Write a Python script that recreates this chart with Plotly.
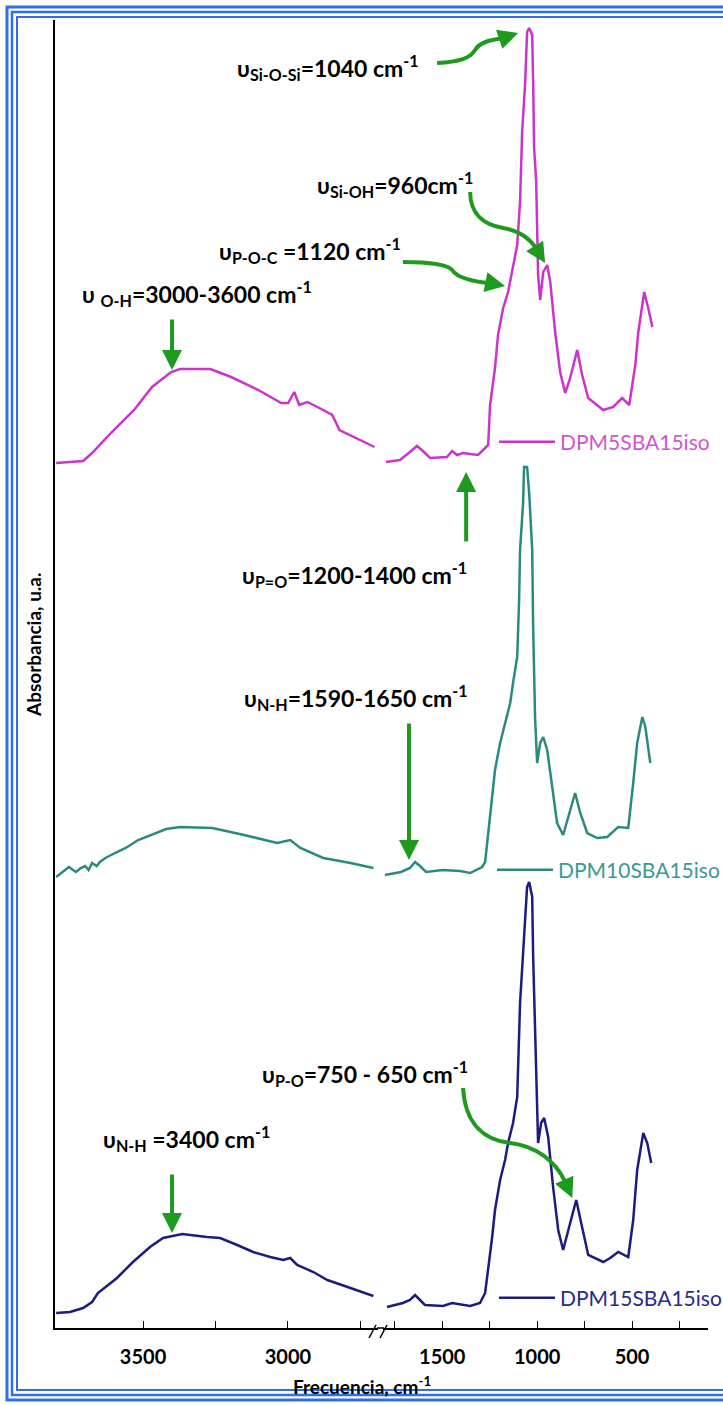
import plotly.graph_objects as go

# ---------------- data (wavenumber cm-1, absorbance a.u. incl. stacking offset) -------------
# DPM5SBA15iso (magenta)
m5_left_wn = [3800, 3707, 3676, 3611, 3531, 3469, 3403, 3372, 3268, 3196, 3102, 3023, 2999, 2978, 2961, 2933, 2878, 2847, 2822, 2767, 2701]
m5_left_ab = [8.65, 8.67, 8.75, 8.95, 9.18, 9.41, 9.56, 9.59, 9.59, 9.51, 9.38, 9.25, 9.25, 9.36, 9.23, 9.26, 9.18, 9.13, 8.98, 8.90, 8.81]
m5_right_wn = [1796, 1723, 1670, 1633, 1596, 1564, 1475, 1448, 1422, 1390, 1353, 1311, 1274, 1258, 1248, 1222, 1206, 1179, 1153,
               1127, 1105, 1090, 1079, 1063, 1053, 1042, 1026, 1021, 1016, 1005, 1000, 995, 984, 968, 947, 931, 905, 879, 852,
               826, 789, 763, 731, 652, 599, 552, 515, 483, 467, 436, 415, 393]
m5_right_ab = [8.66, 8.68, 8.76, 8.82, 8.76, 8.70, 8.71, 8.77, 8.73, 8.75, 8.74, 8.73, 8.80, 8.83, 9.23, 9.60, 9.93, 10.20, 10.36,
               10.60, 10.83, 11.26, 11.96, 12.46, 12.96, 13.00, 12.93, 12.46, 11.80, 11.46, 10.80, 10.53, 10.28, 10.56, 10.63, 10.46, 9.96, 9.56, 9.35,
               9.50, 9.78, 9.53, 9.30, 9.18, 9.21, 9.30, 9.23, 9.63, 9.96, 10.36, 10.20, 10.01]

# DPM10SBA15iso (teal)
m10_left_wn = [3800, 3756, 3732, 3715, 3700, 3688, 3676, 3660, 3649, 3630, 3597, 3560, 3517, 3470, 3420, 3372, 3261, 3151, 3037, 2992, 2957, 2878, 2784, 2705]
m10_left_ab = [4.51, 4.61, 4.56, 4.60, 4.62, 4.58, 4.65, 4.62, 4.66, 4.70, 4.75, 4.80, 4.88, 4.93, 4.99, 5.01, 5.00, 4.93, 4.85, 4.88, 4.80, 4.70, 4.65, 4.60]
m10_right_wn = [1802, 1717, 1670, 1643, 1617, 1585, 1496, 1406, 1353, 1290, 1274, 1258, 1237, 1222, 1195, 1169, 1142, 1127, 1105,
                1095, 1090, 1074, 1069, 1053, 1042, 1026, 1021, 1011, 1000, 984, 968, 947, 921, 895, 863, 826, 800, 773, 736,
                684, 631, 573, 520, 494, 473, 446, 430, 404]
m10_right_ab = [4.53, 4.56, 4.60, 4.66, 4.62, 4.56, 4.58, 4.57, 4.55, 4.61, 4.66, 4.95, 5.28, 5.58, 5.85, 6.05, 6.25, 6.45, 6.71,
                7.28, 7.78, 8.25, 8.61, 8.61, 8.35, 7.78, 7.01, 6.11, 5.65, 5.85, 5.91, 5.78, 5.41, 5.05, 4.93, 5.18, 5.35, 5.15, 4.95,
                4.90, 4.91, 5.01, 5.00, 5.45, 5.85, 6.11, 6.01, 5.65]

# DPM15SBA15iso (navy)
m15_left_wn = [3800, 3752, 3707, 3676, 3656, 3590, 3535, 3476, 3431, 3400, 3365, 3279, 3234, 3175, 3120, 3061, 3016, 2992, 2968, 2912, 2864, 2784, 2705]
m15_left_ab = [0.15, 0.16, 0.20, 0.26, 0.35, 0.50, 0.66, 0.81, 0.90, 0.92, 0.94, 0.91, 0.90, 0.83, 0.76, 0.71, 0.68, 0.70, 0.63, 0.56, 0.48, 0.40, 0.32]
m15_right_wn = [1791, 1707, 1670, 1643, 1617, 1591, 1496, 1448, 1353, 1301, 1274, 1258, 1237, 1222, 1195, 1169, 1153, 1127, 1105,
                1090, 1069, 1053, 1042, 1026, 1021, 1011, 1000, 995, 979, 963, 942, 916, 889, 863, 826, 794, 768, 731,
                652, 615, 573, 520, 494, 473, 441, 420, 399]
m15_right_ab = [0.21, 0.25, 0.28, 0.33, 0.28, 0.23, 0.22, 0.25, 0.22, 0.25, 0.35, 0.58, 0.91, 1.18, 1.48, 1.68, 1.85, 2.05, 2.31,
                3.25, 3.98, 4.41, 4.46, 4.31, 3.71, 2.91, 2.25, 1.85, 2.05, 2.10, 1.91, 1.41, 0.98, 0.78, 1.05, 1.28, 1.05, 0.73,
                0.66, 0.70, 0.76, 0.71, 1.08, 1.58, 1.95, 1.85, 1.65]

series_names = ["DPM5SBA15iso", "DPM10SBA15iso", "DPM15SBA15iso"]
series_colors = ["#CC33CC", "#2A8A80", "#1C1C80"]
legend_text_colors = ["#D055D0", "#3A9A90", "#2A2A8C"]

left_ticks = [3500, 3000]
left_minor_ticks = [3250, 2750]
right_ticks = [1500, 1000, 500]
right_minor_ticks = [1750, 1250, 750, 250, 100]

# ---------------- layout geometry ----------------
W, H = 723, 1405
L, R, T, B = 55, 708, 20, 1328


def pxx(x):
    return (x - L) / (R - L)


def pxy(y):
    return (B - y) / (B - T)


FONT = "Lato"
GREEN = "#1E9B1E"

fig = go.Figure()
spectra = [
    (m5_left_wn, m5_left_ab, m5_right_wn, m5_right_ab),
    (m10_left_wn, m10_left_ab, m10_right_wn, m10_right_ab),
    (m15_left_wn, m15_left_ab, m15_right_wn, m15_right_ab),
]
legend_ids = ["legend", "legend2", "legend3"]
for i, (lw, la, rw, ra) in enumerate(spectra):
    fig.add_trace(go.Scatter(x=lw, y=la, mode="lines", xaxis="x", yaxis="y",
                             line=dict(color=series_colors[i], width=2.5),
                             showlegend=False, name=series_names[i]))
    fig.add_trace(go.Scatter(x=rw, y=ra, mode="lines", xaxis="x2", yaxis="y",
                             line=dict(color=series_colors[i], width=2.5),
                             showlegend=True, legend=legend_ids[i], name=series_names[i]))

legend_y = [442, 870, 1298]
legend_x = [494, 492, 494]
leg_common = dict(xref="container", yref="container", xanchor="left", yanchor="middle",
                  bgcolor="rgba(0,0,0,0)", itemwidth=56, borderwidth=0, tracegroupgap=0)
fig.update_layout(**{
    lid: dict(x=legend_x[i] / W, y=1 - legend_y[i] / H,
              font=dict(family=FONT, size=21, color=legend_text_colors[i]), **leg_common)
    for i, lid in enumerate(legend_ids)
})

axis_common = dict(showline=True, linecolor="black", linewidth=1.5, showgrid=False, zeroline=False,
                   ticks="inside", ticklen=7, tickcolor="black", tickwidth=1.2, ticklabelstandoff=10,
                   tickfont=dict(family=FONT, size=20, color="black", weight="bold"))
minor_common = dict(ticks="inside", ticklen=7, tickcolor="black", tickwidth=1.2, showgrid=False)
fig.update_layout(
    width=W, height=H,
    margin=dict(l=L, r=W - R, t=T, b=H - B, pad=0, autoexpand=False),
    paper_bgcolor="white", plot_bgcolor="white",
    xaxis=dict(domain=[0, pxx(378)], range=[3804, 2689], tickmode="array", tickvals=left_ticks,
               minor=dict(tickmode="array", tickvals=left_minor_ticks, **minor_common),
               anchor="y", **axis_common),
    xaxis2=dict(domain=[pxx(383), 1], range=[1812, 100], tickmode="array", tickvals=right_ticks,
                minor=dict(tickmode="array", tickvals=right_minor_ticks, **minor_common),
                anchor="y", **axis_common),
    yaxis=dict(range=[0, 13.08], showline=True, linecolor="black", linewidth=1.5, showgrid=False,
               zeroline=False, showticklabels=False, ticks=""),
    showlegend=True,
)

annotations = []
shapes = []

# axis titles
annotations.append(dict(xref="paper", yref="paper", x=pxx(362), y=pxy(1385), xanchor="center", yanchor="middle",
                        text="Frecuencia, cm<sup>-1</sup>", showarrow=False,
                        font=dict(family=FONT, size=19, color="black", weight="bold")))
annotations.append(dict(xref="paper", yref="paper", x=pxx(33), y=pxy(645), xanchor="center", yanchor="middle",
                        text="Absorbancia, u.a.", textangle=-90, showarrow=False,
                        font=dict(family=FONT, size=19, color="black", weight="bold")))

# band labels (left x px, center y px)
labels = [
    ("υ<sub>Si-O-Si</sub>=1040 cm<sup>-1</sup>", 235, 67),
    ("υ<sub>Si-OH</sub>=960cm<sup>-1</sup>", 315, 185),
    ("υ<sub>P-O-C</sub> =1120 cm<sup>-1</sup>", 217, 250),
    ("υ <sub>O-H</sub>=3000-3600 cm<sup>-1</sup>", 80, 293),
    ("υ<sub>P=O</sub>=1200-1400 cm<sup>-1</sup>", 240, 575),
    ("υ<sub>N-H</sub>=1590-1650 cm<sup>-1</sup>", 242, 697),
    ("υ<sub>P-O</sub>=750 - 650 cm<sup>-1</sup>", 260, 1073),
    ("υ<sub>N-H</sub> =3400 cm<sup>-1</sup>", 101, 1138),
]
for txt, lx, cy in labels:
    annotations.append(dict(xref="paper", yref="paper", x=pxx(lx), y=pxy(cy), xanchor="left", yanchor="middle",
                            text=txt, showarrow=False,
                            font=dict(family=FONT, size=23, color="black", weight="bold")))

# straight arrows: (xref, x tip, y tip, ay offset px)
straight = [("x", 3400, 9.58, -52), ("x", 3400, 0.95, -60), ("x2", 1675, 4.68, -138), ("x2", 1374, 8.56, 71)]
for xr, xt, yt, ay in straight:
    annotations.append(dict(xref=xr, yref="y", x=xt, y=yt, ax=0, ay=ay, axref="pixel", ayref="pixel",
                            text="", showarrow=True, arrowhead=2, arrowsize=1, arrowwidth=4,
                            arrowcolor=GREEN, standoff=0))

# curved arrows (data coords on x2/y): path, tip and head tail offset
curves = [
    ("M 1527,12.65 C 1406,12.66 1353,12.70 1327,12.78 C 1301,12.86 1248,12.88 1179,12.90", 1100, 12.95, -15, 5),
    ("M 1353,11.36 C 1353,11.13 1274,11.03 1179,11.00 C 1090,10.97 1037,10.90 1000,10.78", 958, 10.65, -8, -13),
    ("M 1707,10.66 C 1564,10.66 1469,10.63 1448,10.58 C 1422,10.50 1327,10.46 1248,10.45", 1169, 10.42, -15, -3),
    ("M 1390,2.40 C 1380,2.03 1274,1.88 1142,1.85 C 1011,1.82 905,1.68 852,1.46", 815, 1.30, -7, -16),
]
for path, xt, yt, ax, ay in curves:
    shapes.append(dict(type="path", xref="x2", yref="y", path=path, line=dict(color=GREEN, width=4)))
    annotations.append(dict(xref="x2", yref="y", x=xt, y=yt, ax=ax, ay=ay, axref="pixel", ayref="pixel",
                            text="", showarrow=True, arrowhead=2, arrowsize=1, arrowwidth=4,
                            arrowcolor=GREEN, standoff=0))

# axis break: bridge the axis line and draw the // marks
shapes.append(dict(type="line", xref="paper", yref="paper", x0=pxx(377), x1=pxx(384), y0=0, y1=0,
                   line=dict(color="black", width=1.5)))
for x0 in (369, 380):
    shapes.append(dict(type="line", xref="paper", yref="paper", x0=pxx(x0), y0=pxy(1338), x1=pxx(x0 + 7), y1=pxy(1325),
                       line=dict(color="black", width=1.5)))

# blue page frame
for inset, wdt in ((7, 3), (12, 2.5), (17, 2)):
    shapes.append(dict(type="rect", xref="paper", yref="paper", x0=pxx(inset), x1=pxx(760),
                       y0=pxy(H - inset + 2), y1=pxy(inset), line=dict(color="#2E6FE6", width=wdt),
                       fillcolor="rgba(0,0,0,0)", layer="above"))

fig.update_layout(annotations=annotations, shapes=shapes)

fig.write_html("out.html", config={"displayModeBar": False},
               post_script="document.body.style.margin='0';document.body.style.overflow='hidden';")
